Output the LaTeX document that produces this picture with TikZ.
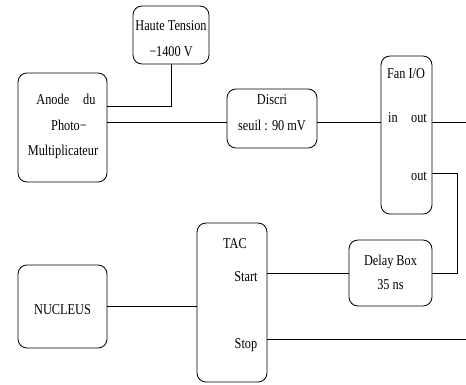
\documentclass[tikz,border=0pt]{standalone}
\usepackage{fontspec}
\setmainfont{Liberation Serif}[FakeStretch=0.82]
\begin{document}
\begin{tikzpicture}[x=1pt,y=-1pt,
  box/.style={draw,line width=0.8pt,rounded corners=9pt,inner sep=0pt},
  lbl/.style={font=\fontsize{15pt}{17pt}\selectfont,inner sep=0pt,anchor=base},
  wire/.style={line width=0.8pt}]
\useasboundingbox (0,0) rectangle (466,385);
% boxes
\node[box,minimum width=76pt,minimum height=58pt] (ht) at (171,35) {};
\node[box,minimum width=89pt,minimum height=109pt] (anode) at (62.5,127.5) {};
\node[box,minimum width=90pt,minimum height=59pt] (discri) at (272,118.5) {};
\node[box,minimum width=51pt,minimum height=158pt] (fan) at (406.5,135) {};
\node[box,minimum width=83pt,minimum height=66pt] (delay) at (390.5,273) {};
\node[box,minimum width=70pt,minimum height=159pt] (tac) at (232,302.5) {};
\node[box,minimum width=89pt,minimum height=83pt] (nucleus) at (62.5,306.5) {};
% texts
\node[lbl] (t1) at (171,31) {Haute Tension};
\node[lbl] (t2) at (171,57) {−1400 V};
\node[lbl] (t3) at (66,105) {Anode\hspace{14pt}du};
\node[lbl] (t4) at (69,131) {Photo−};
\node[lbl] (t5) at (63,156) {Multiplicateur};
\node[lbl] (t6) at (272,105) {Discri};
\node[lbl] (t7) at (272,131) {seuil : 90 mV};
\node[lbl] (t8) at (406,79) {Fan I/O};
\node[lbl] (t9) at (393,123) {in};
\node[lbl] (t10) at (419,123) {out};
\node[lbl] (t11) at (419,181) {out};
\node[lbl] (t12) at (390.5,265) {Delay Box};
\node[lbl] (t13) at (390.5,289) {35 ns};
\node[lbl] (t14) at (235,248) {TAC};
\node[lbl] (t15) at (246,281) {Start};
\node[lbl] (t16) at (246,348) {Stop};
\node[lbl] (t17) at (62.5,314) {NUCLEUS};
% reference coordinates
\coordinate (yhv) at (0,106);
\coordinate (ysig) at (0,122.5);
\coordinate (yout2) at (0,173);
\coordinate (ystop) at (0,339);
\coordinate (edge) at (466,0);
\coordinate (bend) at (457,0);
% connectors
\draw[wire] (ht.south) |- (anode.east |- yhv);
\draw[wire] (anode.east |- ysig) -- (discri.west |- ysig);
\draw[wire] (discri.east |- ysig) -- (fan.west |- ysig);
\draw[wire] (fan.east |- ysig) -- (edge |- ysig);
\draw[wire] (fan.east |- yout2) -- (bend |- yout2) |- (delay.east);
\draw[wire] (delay.west) -- (tac.east |- delay.west);
\draw[wire] (tac.east |- ystop) -- (edge |- ystop);
\draw[wire] (nucleus.east) -- (tac.west |- nucleus.east);
\end{tikzpicture}
\end{document}
